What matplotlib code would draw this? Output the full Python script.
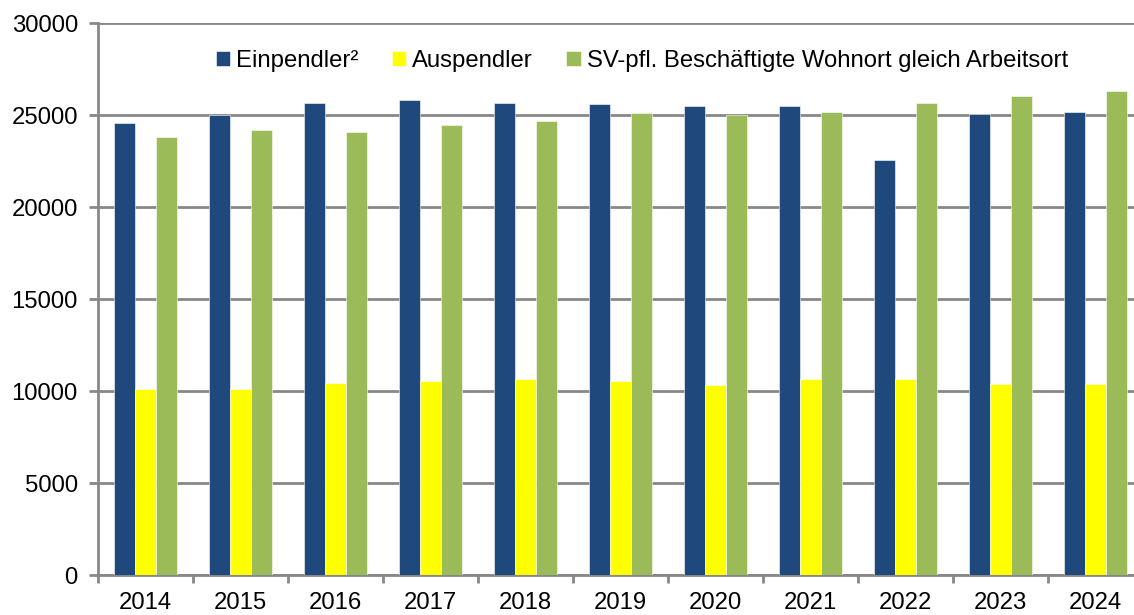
import matplotlib
matplotlib.use("Agg")
import matplotlib.pyplot as plt
import numpy as np

years = ["2014", "2015", "2016", "2017", "2018", "2019",
         "2020", "2021", "2022", "2023", "2024"]
einpendler = [24580, 24980, 25630, 25810, 25630, 25600,
              25490, 25470, 22540, 25070, 25140]
auspendler = [10130, 10090, 10440, 10530, 10640, 10550,
              10350, 10650, 10670, 10380, 10400]
wohnort_gleich_arbeitsort = [23790, 24190, 24080, 24480, 24690, 25130,
                             24990, 25150, 25650, 26050, 26290]

series_names = ["Einpendler²", "Auspendler",
                "SV-pfl. Beschäftigte Wohnort gleich Arbeitsort"]
colors = ["#1F497D", "#FFFF00", "#9BBB59"]

plt.rcParams["font.family"] = ["Liberation Sans", "DejaVu Sans"]
plt.rcParams["font.size"] = 17.2

fig = plt.figure(figsize=(11.34, 6.15), dpi=100)
# axes runs a little past the right edge of the figure
ax = fig.add_axes([98 / 1134, 40 / 615, 1045 / 1134, 552 / 615])

x = np.arange(len(years))
w = 0.22
grid_c = "#888888"

for i, (vals, name, c) in enumerate(zip(
        [einpendler, auspendler, wohnort_gleich_arbeitsort], series_names, colors)):
    ax.bar(x + (i - 1) * w, vals, width=w, color=c, label=name,
           edgecolor="white", linewidth=0.4, zorder=3)

ax.set_xlim(-0.5, len(years) - 0.5)
ax.set_ylim(0, 30000)
ax.set_yticks(np.arange(0, 30001, 5000))
ax.yaxis.grid(True, color=grid_c, linewidth=2, zorder=0)
ax.set_axisbelow(True)

ax.set_xticks(x)
ax.set_xticklabels(years)
ax.set_xticks(np.arange(-0.5, len(years), 1), minor=True)
ax.tick_params(axis="x", which="major", length=0, pad=12.5)
ax.tick_params(axis="x", which="minor", length=6, width=2, color=grid_c)
ax.tick_params(axis="y", length=6.5, width=2, color=grid_c, pad=8)

for side in ["top", "right"]:
    ax.spines[side].set_visible(False)
for side in ["left", "bottom"]:
    ax.spines[side].set_color(grid_c)
    ax.spines[side].set_linewidth(2)

ax.legend(loc="center left", bbox_to_anchor=(0.1035, 0.932), ncol=3,
          frameon=False, handlelength=0.6, handleheight=0.6,
          handletextpad=0.25, columnspacing=1.4, borderaxespad=0)

fig.savefig("out.png", dpi=100)
